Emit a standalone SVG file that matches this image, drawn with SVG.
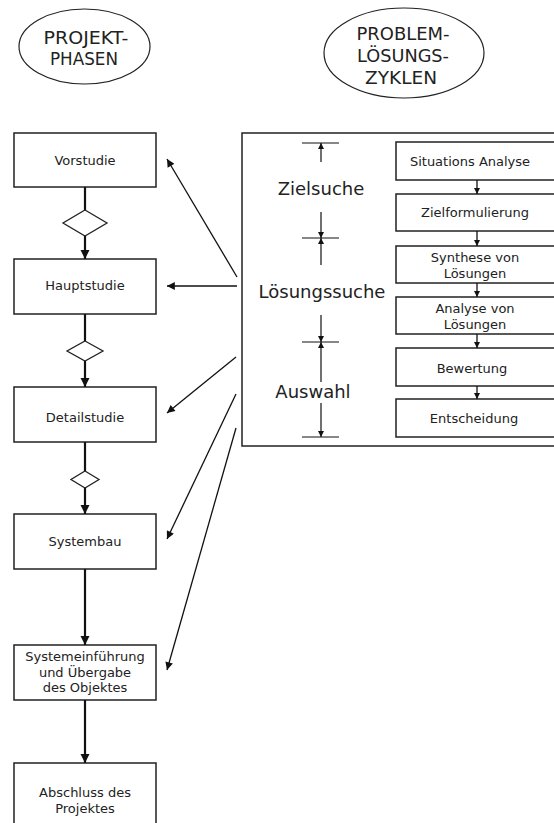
<svg xmlns="http://www.w3.org/2000/svg" width="554" height="823" viewBox="0 0 554 823">
  <style>
    .box { fill: #ffffff; stroke: #222222; stroke-width: 1.5; }
    .hdr { fill: #ffffff; stroke: #222222; stroke-width: 1.2; }
    .t { font-family: "DejaVu Sans", "Liberation Sans", sans-serif; font-size: 13px; fill: #222222; text-anchor: middle; }
    .h { font-family: "DejaVu Sans", "Liberation Sans", sans-serif; font-size: 18px; fill: #222222; text-anchor: middle; }
    .big { font-family: "DejaVu Sans", "Liberation Sans", sans-serif; font-size: 18px; fill: #222222; text-anchor: middle; }
    .flow { stroke: #111111; stroke-width: 2.2; fill: none; }
    .thin { stroke: #111111; stroke-width: 1.3; fill: none; }
    .dim { stroke: #111111; stroke-width: 1.2; fill: none; }
    .dia { fill: #ffffff; stroke: #222222; stroke-width: 1.3; }
  </style>
  <defs>
    <marker id="headBig" viewBox="0 0 10 10" refX="10" refY="5" markerWidth="4.2" markerHeight="4.2" markerUnits="strokeWidth" orient="auto">
      <path d="M0,0 L10,5 L0,10 Z" fill="#111111"/>
    </marker>
    <marker id="headMid" viewBox="0 0 10 10" refX="10" refY="5" markerWidth="7" markerHeight="6" markerUnits="strokeWidth" orient="auto">
      <path d="M0,0 L10,5 L0,10 Z" fill="#111111"/>
    </marker>
    <marker id="headSmall" viewBox="0 0 10 10" refX="10" refY="5" markerWidth="5" markerHeight="5" markerUnits="strokeWidth" orient="auto">
      <path d="M0,0 L10,5 L0,10 Z" fill="#111111"/>
    </marker>
  </defs>

  <!-- column headings -->
  <g id="head-phasen">
    <ellipse class="hdr" cx="84.5" cy="46.5" rx="65.5" ry="37.5"/>
    <text class="h" x="86" y="44" textLength="85" lengthAdjust="spacingAndGlyphs">PROJEKT-</text>
    <text class="h" x="84" y="65" textLength="68" lengthAdjust="spacingAndGlyphs">PHASEN</text>
  </g>
  <g id="head-zyklen">
    <ellipse class="hdr" cx="404" cy="53" rx="80" ry="45"/>
    <text class="h" x="403" y="40" textLength="93" lengthAdjust="spacingAndGlyphs">PROBLEM-</text>
    <text class="h" x="403" y="62" textLength="92" lengthAdjust="spacingAndGlyphs">LÖSUNGS-</text>
    <text class="h" x="401" y="84" textLength="72" lengthAdjust="spacingAndGlyphs">ZYKLEN</text>
  </g>

  <!-- project phases -->
  <g id="vorstudie">
    <rect class="box" x="14" y="133" width="142" height="54"/>
    <text class="t" x="85" y="165">Vorstudie</text>
  </g>
  <g id="gate1"><polygon class="dia" points="85,210 107,223 85,236 63,223"/></g>
  <g id="hauptstudie">
    <rect class="box" x="14" y="259" width="142" height="55"/>
    <text class="t" x="85" y="290">Hauptstudie</text>
  </g>
  <g id="gate2"><polygon class="dia" points="85,341 103,351 85,361 67,351"/></g>
  <g id="detailstudie">
    <rect class="box" x="14" y="387" width="142" height="55"/>
    <text class="t" x="85" y="422">Detailstudie</text>
  </g>
  <g id="gate3"><polygon class="dia" points="85,471 99,479.5 85,488 71,479.5"/></g>
  <g id="systembau">
    <rect class="box" x="14" y="514" width="142" height="55"/>
    <text class="t" x="85" y="546">Systembau</text>
  </g>
  <g id="einfuehrung">
    <rect class="box" x="14" y="645" width="142" height="55"/>
    <text class="t" x="85" y="661">Systemeinführung</text>
    <text class="t" x="85" y="677">und Übergabe</text>
    <text class="t" x="85" y="692">des Objektes</text>
  </g>
  <g id="abschluss">
    <rect class="box" x="14" y="763" width="142" height="80"/>
    <text class="t" x="85" y="797">Abschluss des</text>
    <text class="t" x="85" y="813">Projektes</text>
  </g>

  <!-- problem solving cycle -->
  <g id="zyklus">
    <rect class="box" x="242" y="133" width="330" height="313"/>
  </g>
  <g id="situationsanalyse">
    <rect class="box" x="396" y="142" width="170" height="38"/>
    <text class="t" x="470" y="166">Situations Analyse</text>
  </g>
  <g id="zielformulierung">
    <rect class="box" x="396" y="194" width="170" height="37"/>
    <text class="t" x="475" y="217">Zielformulierung</text>
  </g>
  <g id="synthese">
    <rect class="box" x="396" y="246" width="170" height="37"/>
    <text class="t" x="475" y="262">Synthese von</text>
    <text class="t" x="475" y="278">Lösungen</text>
  </g>
  <g id="analyse">
    <rect class="box" x="396" y="297" width="170" height="37"/>
    <text class="t" x="475" y="313">Analyse von</text>
    <text class="t" x="475" y="329">Lösungen</text>
  </g>
  <g id="bewertung">
    <rect class="box" x="396" y="348" width="170" height="38"/>
    <text class="t" x="472" y="373">Bewertung</text>
  </g>
  <g id="entscheidung">
    <rect class="box" x="396" y="399" width="170" height="38"/>
    <text class="t" x="474" y="423">Entscheidung</text>
  </g>

  <!-- stage labels with dimension lines -->
  <g id="stufen">
    <text class="big" x="321" y="195">Zielsuche</text>
    <text class="big" x="322" y="298">Lösungssuche</text>
    <text class="big" x="313" y="398">Auswahl</text>
  </g>

  <g id="connectors">
    <!-- phase flow -->
    <line class="flow" x1="85" y1="187" x2="85" y2="210"/>
    <line class="flow" x1="85" y1="236" x2="85" y2="259" marker-end="url(#headBig)"/>
    <line class="flow" x1="85" y1="314" x2="85" y2="341"/>
    <line class="flow" x1="85" y1="361" x2="85" y2="387" marker-end="url(#headBig)"/>
    <line class="flow" x1="85" y1="442" x2="85" y2="471"/>
    <line class="flow" x1="85" y1="488" x2="85" y2="514" marker-end="url(#headBig)"/>
    <line class="flow" x1="85" y1="569" x2="85" y2="645" marker-end="url(#headBig)"/>
    <line class="flow" x1="85" y1="700" x2="85" y2="763" marker-end="url(#headBig)"/>

    <!-- cycle to phases -->
    <line class="thin" x1="237" y1="277" x2="167" y2="159" marker-end="url(#headMid)"/>
    <line class="thin" x1="237" y1="286" x2="167" y2="286" marker-end="url(#headMid)"/>
    <line class="thin" x1="236" y1="357" x2="167" y2="413" marker-end="url(#headMid)"/>
    <line class="thin" x1="236" y1="394" x2="167" y2="539" marker-end="url(#headMid)"/>
    <line class="thin" x1="236" y1="428" x2="167" y2="670" marker-end="url(#headMid)"/>

    <!-- cycle steps -->
    <line class="thin" x1="477" y1="180" x2="477" y2="194" marker-end="url(#headSmall)"/>
    <line class="thin" x1="477" y1="231" x2="477" y2="246" marker-end="url(#headSmall)"/>
    <line class="thin" x1="477" y1="283" x2="477" y2="297" marker-end="url(#headSmall)"/>
    <line class="thin" x1="477" y1="334" x2="477" y2="348" marker-end="url(#headSmall)"/>
    <line class="thin" x1="477" y1="386" x2="477" y2="399" marker-end="url(#headSmall)"/>

    <!-- dimension lines -->
    <line class="dim" x1="302" y1="143" x2="339" y2="143"/>
    <line class="dim" x1="302" y1="238" x2="339" y2="238"/>
    <line class="dim" x1="302" y1="342" x2="339" y2="342"/>
    <line class="dim" x1="302" y1="437" x2="339" y2="437"/>
    <line class="dim" x1="321" y1="162" x2="321" y2="143" marker-end="url(#headSmall)"/>
    <line class="dim" x1="321" y1="212" x2="321" y2="238" marker-end="url(#headSmall)"/>
    <line class="dim" x1="321" y1="265" x2="321" y2="238" marker-end="url(#headSmall)"/>
    <line class="dim" x1="321" y1="315" x2="321" y2="342" marker-end="url(#headSmall)"/>
    <line class="dim" x1="321" y1="382" x2="321" y2="342" marker-end="url(#headSmall)"/>
    <line class="dim" x1="321" y1="403" x2="321" y2="437" marker-end="url(#headSmall)"/>
  </g>
</svg>
